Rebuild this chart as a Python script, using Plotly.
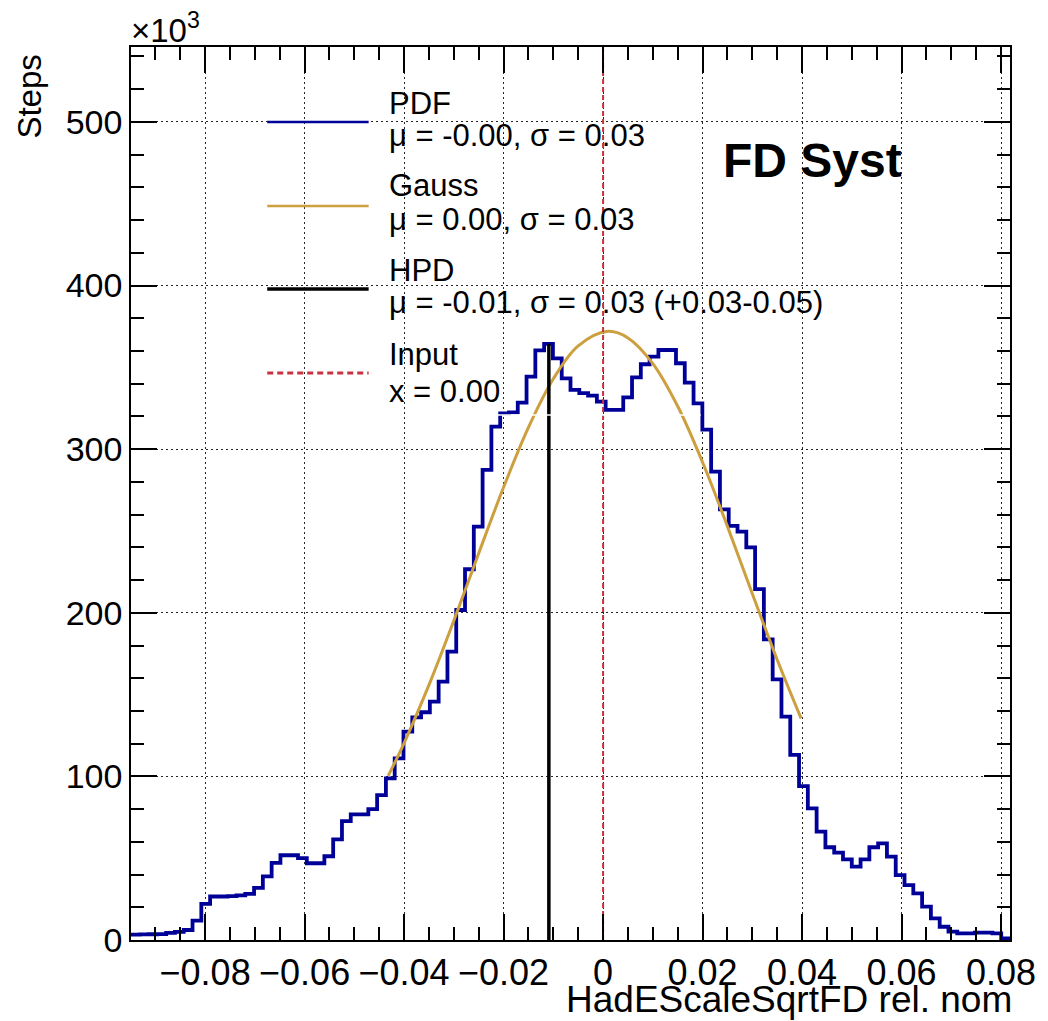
import numpy as np
import plotly.graph_objects as go

# ---------------- data ----------------
hist_xmin = -0.0949
hist_bin_width = 0.001767
# Steps per bin, in thousands (x10^3)
steps_k = [
    3.3, 3.4, 3.5, 3.6, 4.3, 5.0, 6.1, 11.9, 22.1, 26.6,
    26.6, 26.8, 27.3, 28.2, 31.8, 38.9, 47.1, 51.8, 51.8, 50.0,
    46.9, 46.9, 51.2, 61.5, 72.7, 76.8, 76.8, 80.0, 88.6, 98.8,
    111.0, 127.3, 136.1, 139.2, 145.7, 157.9, 176.2, 201.7, 226.6, 252.6,
    287.3, 313.8, 321.9, 322.5, 328.4, 344.3, 360.4, 364.3, 355.5, 343.3,
    336.2, 334.2, 332.7, 329.0, 324.0, 324.0, 331.7, 343.9, 351.9, 356.6,
    360.6, 360.6, 352.5, 340.7, 328.0, 312.0, 286.3, 263.2, 253.1, 249.6,
    240.0, 214.4, 183.8, 159.3, 136.5, 113.1, 94.1, 80.5, 66.2, 56.7,
    53.4, 49.3, 44.8, 49.3, 56.7, 59.1, 50.9, 39.7, 33.6, 28.5,
    20.4, 13.2, 8.1, 5.1, 4.1, 4.1, 4.5, 4.5, 4.1, 1.0,
]

# Gauss curve, points
gauss_x = [-0.0432, -0.040, -0.035, -0.030, -0.025, -0.020, -0.015, -0.010, -0.005,
           0.001, 0.005, 0.010, 0.015, 0.020, 0.025, 0.030, 0.035, 0.0398]
gauss_y = [100.3, 120.4, 155.9, 195.2, 236.4, 276.7, 313.3, 343.0, 363.1,
           372.0, 368.0, 352.3, 326.2, 292.0, 252.8, 211.6, 171.3, 135.5]

hpd_x = -0.0109
input_x = 0.0

x_range = [-0.0949, 0.0818]
y_range = [0, 545.8]

x_tickvals = [-0.08, -0.06, -0.04, -0.02, 0, 0.02, 0.04, 0.06, 0.08]
x_ticktext = ["\u22120.08", "\u22120.06", "\u22120.04", "\u22120.02", "0",
              "0.02", "0.04", "0.06", "0.08"]
y_tickvals = [0, 100, 200, 300, 400, 500]
y_ticktext = ["0", "100", "200", "300", "400", "500"]

legend_titles = ["PDF", "Gauss", "HPD", "Input"]
legend_stats = ["\u03bc = -0.00, \u03c3 = 0.03",
                "\u03bc = 0.00, \u03c3 = 0.03",
                "\u03bc = -0.01, \u03c3 = 0.03 (+0.03-0.05)",
                "x = 0.00"]

x_title = "HadEScaleSqrtFD rel. nom"
y_title = "Steps"
label_text = "FD Syst"

# ---------------- styles ----------------
C_PDF = "#000099"
C_GAUSS = "#cc9f3f"
C_HPD = "#000000"
C_INPUT = "#c8323c"
legend_colors = [C_PDF, C_GAUSS, C_HPD, C_INPUT]
legend_dash = ["solid", "solid", "solid", "6px,4px"]
legend_width = [2.5, 2.5, 3.5, 3]

FONT = "Liberation Sans, Arial, Helvetica, sans-serif"

# page coordinates of the frame (the page body adds an 8px offset)
OFF = 8
L, R, T, B = 131, 1015, 47, 940
W, H = 1048 - OFF, 1021 - OFF


def pxx(xp):
    return (xp - L) / (R - L)


def pxy(yp):
    return (B - yp) / (B - T)


edges = hist_xmin + hist_bin_width * np.arange(len(steps_k) + 1)
y_step = list(steps_k) + [steps_k[-1]]
hpd_idx = int((hpd_x - hist_xmin) // hist_bin_width)
hpd_top = steps_k[hpd_idx]

fig = go.Figure()
fig.add_trace(go.Scatter(x=edges, y=y_step, mode="lines",
                         line=dict(shape="hv", color=C_PDF, width=3.8),
                         name="PDF", showlegend=False))
fig.add_trace(go.Scatter(x=gauss_x, y=gauss_y, mode="lines",
                         line=dict(shape="spline", color=C_GAUSS, width=3),
                         name="Gauss", showlegend=False))
fig.add_trace(go.Scatter(x=[hpd_x, hpd_x], y=[0, hpd_top], mode="lines",
                         line=dict(color=C_HPD, width=3.5),
                         name="HPD", showlegend=False))
fig.add_trace(go.Scatter(x=[input_x, input_x], y=[0, y_range[1]], mode="lines",
                         line=dict(color=C_INPUT, width=2, dash="5px,3px"),
                         name="Input", showlegend=False))

axis_common = dict(
    showline=True, linecolor="black", linewidth=1.5, mirror="ticks",
    ticks="inside", ticklen=26, tickwidth=1.5, tickcolor="black",
    showgrid=True, gridcolor="rgba(0,0,0,0.85)", gridwidth=1, griddash="2px,3px",
    zeroline=False,
    tickangle=0,
)

fig.update_xaxes(range=x_range, tickmode="array", tickvals=x_tickvals, ticktext=x_ticktext,
                 tickfont=dict(family=FONT, size=36, color="black"),
                 minor=dict(dtick=0.005, tick0=0, ticks="inside", ticklen=13,
                            tickwidth=1.5, tickcolor="black", showgrid=False),
                 **axis_common)
fig.update_yaxes(range=y_range, tickmode="array", tickvals=y_tickvals, ticktext=y_ticktext,
                 tickfont=dict(family=FONT, size=34, color="black"),
                 minor=dict(dtick=20, tick0=0, ticks="inside", ticklen=13,
                            tickwidth=1.5, tickcolor="black", showgrid=False),
                 **axis_common)

shapes = []
annotations = []

# manual legend
leg_line_y = [122, 206, 289, 373]
leg_title_y = [103, 186, 270, 354]
leg_stat_y = [135, 219, 302, 391]
for i in range(4):
    shapes.append(dict(type="line", xref="paper", yref="paper",
                       x0=pxx(268), x1=pxx(370), y0=pxy(leg_line_y[i]), y1=pxy(leg_line_y[i]),
                       line=dict(color=legend_colors[i], width=legend_width[i], dash=legend_dash[i])))
    annotations.append(dict(text=legend_titles[i], xref="paper", yref="paper",
                            x=pxx(388), y=pxy(leg_title_y[i]), xanchor="left", yanchor="middle",
                            showarrow=False, font=dict(family=FONT, size=31, color="black")))
    annotations.append(dict(text=legend_stats[i], xref="paper", yref="paper",
                            x=pxx(388), y=pxy(leg_stat_y[i]), xanchor="left", yanchor="middle",
                            showarrow=False, font=dict(family=FONT, size=31, color="black")))

# faint white legend border visible over the lines
shapes.append(dict(type="line", xref="paper", yref="paper", layer="above",
                   x0=pxx(262), x1=pxx(704), y0=pxy(415), y1=pxy(415),
                   line=dict(color="white", width=1.5)))

annotations.append(dict(text=label_text, xref="paper", yref="paper",
                        x=pxx(816), y=pxy(160), xanchor="center", yanchor="middle",
                        showarrow=False,
                        font=dict(family=FONT, size=48, color="black", weight="bold")))
annotations.append(dict(text="\u00d710<sup>3</sup>", xref="paper", yref="paper",
                        x=pxx(129), y=pxy(28), xanchor="left", yanchor="middle",
                        showarrow=False, font=dict(family=FONT, size=33, color="black")))
annotations.append(dict(text=y_title, xref="paper", yref="paper", textangle=-90,
                        x=pxx(29), y=pxy(97), xanchor="center", yanchor="middle",
                        showarrow=False, font=dict(family=FONT, size=33, color="black")))
annotations.append(dict(text=x_title, xref="paper", yref="paper",
                        x=pxx(1019), y=pxy(999), xanchor="right", yanchor="middle",
                        showarrow=False, font=dict(family=FONT, size=37, color="black")))

fig.update_layout(
    width=W, height=H,
    margin=dict(l=L - OFF, r=W - (R - OFF), t=T - OFF, b=H - (B - OFF)),
    plot_bgcolor="white", paper_bgcolor="white",
    showlegend=False,
    shapes=shapes, annotations=annotations,
    font=dict(family=FONT, color="black"),
)

fig.write_html("out.html")
